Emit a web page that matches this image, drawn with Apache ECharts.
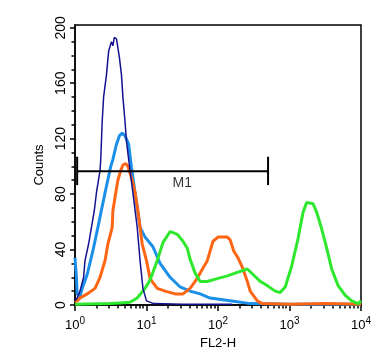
<!DOCTYPE html>
<html>
<head>
<meta charset="utf-8">
<script src="https://cdn.jsdelivr.net/npm/echarts@6/dist/echarts.min.js"></script>
<style>
html,body{margin:0;padding:0;background:#fff;}
#chart{width:385px;height:355px;}
</style>
</head>
<body>
<div id="chart"></div>
<script>
// x values are positions on the log axis, in decades: log10(FL2-H)
var navyData = [[0.00,3],[0.03,5],[0.07,10],[0.12,20],[0.14,32],[0.19,44],[0.23,56],[0.27,68],[0.30,81],[0.35,97],[0.36,105],[0.38,132],[0.40,150],[0.44,166],[0.47,183],[0.51,190],[0.53,187],[0.55,193],[0.58,192],[0.62,179],[0.65,166],[0.67,150],[0.70,132],[0.72,118],[0.76,101],[0.80,85],[0.87,56],[0.91,32],[0.95,12],[1.00,3],[1.10,1],[1.50,0.5],[2.20,0.5]];
var skyData = [[0.00,34],[0.02,20],[0.03,8],[0.07,6],[0.10,12],[0.17,22],[0.25,39],[0.32,56],[0.42,81],[0.50,100],[0.53,105],[0.58,116],[0.62,122],[0.66,124],[0.70,122],[0.75,116],[0.79,99],[0.84,81],[0.91,56],[0.98,49],[1.09,42],[1.19,30],[1.33,20],[1.47,13],[1.61,10],[1.75,8],[1.89,5],[2.17,3],[2.45,1],[3.00,0.5],[4.00,0.5]];
var orangeData = [[0.00,2],[0.03,3],[0.07,5],[0.17,8],[0.28,12],[0.35,20],[0.42,32],[0.46,44],[0.52,56],[0.53,68],[0.57,81],[0.60,90],[0.64,97],[0.67,101],[0.71,102],[0.74,100],[0.80,90],[0.84,81],[0.88,68],[0.91,56],[0.94,44],[1.00,32],[1.05,19],[1.15,12],[1.26,10],[1.40,8],[1.51,8],[1.61,12],[1.68,17],[1.75,23],[1.85,32],[1.93,46],[2.00,49],[2.13,49],[2.17,47],[2.22,39],[2.28,34],[2.35,26],[2.41,17],[2.45,10],[2.55,3],[2.62,1],[3.00,0.5],[3.50,1],[4.00,0.5]];
var greenData = [[0.00,0.5],[0.49,1],[0.63,1.5],[0.77,2],[0.87,5],[0.98,12],[1.05,18],[1.15,32],[1.23,45],[1.33,53],[1.38,52],[1.43,51],[1.51,46],[1.57,41],[1.61,33],[1.68,23],[1.75,17],[1.85,17],[1.99,19],[2.13,21],[2.24,23],[2.41,26],[2.49,22],[2.59,17],[2.66,15],[2.80,10],[2.87,9],[2.94,13],[3.03,28],[3.12,48],[3.19,67],[3.24,74],[3.33,73],[3.38,67],[3.45,55],[3.52,41],[3.59,26],[3.68,14],[3.78,7],[3.87,3],[3.96,1],[4.00,3]];

var decadeTicks = [0, 1, 2, 3, 4];          // 10^0 ... 10^4
var minorMultipliers = [2, 3, 4, 5, 6, 7, 8, 9];
var countTicks = [0, 40, 80, 120, 160, 200];
var countMinorTicks = [10, 20, 30, 50, 60, 70, 90, 100, 110, 130, 140, 150, 170, 180, 190];

// gate M1 (decades / counts)
var gateFrom = 0.03, gateTo = 2.70, gateLevel = 96.5, gateLow = 86.5, gateHigh = 107;
var gateLabel = [1.50, 88];

var minorDecadeTicks = [];
decadeTicks.slice(0, 4).forEach(function (d) {
  minorMultipliers.forEach(function (m) { minorDecadeTicks.push(d + Math.log10(m)); });
});

var FONT = '"Liberation Sans", Arial, Helvetica, sans-serif';
var chart = echarts.init(document.getElementById('chart'), null, {renderer: 'canvas'});

function lineSeries(data, color, width, z) {
  return {type: 'line', data: data, symbol: 'none', smooth: false, z: z,
    lineStyle: {color: color, width: width}, xAxisIndex: 0, yAxisIndex: 0, animation: false};
}

chart.setOption({
  animation: false,
  grid: {left: 75, right: 24, top: 25, bottom: 50, show: true, borderColor: '#000', borderWidth: 1.5, backgroundColor: 'transparent'},
  xAxis: [{
    type: 'value', min: 0, max: 4, interval: 1,
    name: 'FL2-H', nameLocation: 'middle', nameGap: 30,
    nameTextStyle: {fontFamily: FONT, fontSize: 13, color: '#000'},
    axisLine: {show: true, lineStyle: {color: '#000', width: 1.5}},
    axisTick: {show: true, customValues: decadeTicks, length: 6, lineStyle: {color: '#000', width: 1.5}},
    splitLine: {show: false},
    axisLabel: {
      customValues: decadeTicks, margin: 11, color: '#000', fontFamily: FONT,
      formatter: function (v) { return '{b|10}{s|' + Math.round(v) + '}'; },
      rich: {
        b: {fontSize: 13, fontFamily: FONT, color: '#000', lineHeight: 16, verticalAlign: 'bottom'},
        s: {fontSize: 10, fontFamily: FONT, color: '#000', lineHeight: 8, verticalAlign: 'top'}
      }
    }
  }, {
    type: 'value', min: 0, max: 4, gridIndex: 0, position: 'bottom',
    axisLine: {show: false}, axisLabel: {show: false}, splitLine: {show: false},
    axisTick: {show: true, customValues: minorDecadeTicks, length: 3.5, lineStyle: {color: '#000', width: 1.5}}
  }],
  yAxis: [{
    type: 'value', min: 0, max: 202,
    name: 'Counts', nameLocation: 'middle', nameGap: 23,
    nameTextStyle: {fontFamily: FONT, fontSize: 13, color: '#000'},
    axisLine: {show: true, lineStyle: {color: '#000', width: 1.5}},
    axisTick: {show: true, customValues: countTicks, length: 5, lineStyle: {color: '#000', width: 1.5}},
    splitLine: {show: false},
    axisLabel: {customValues: countTicks, rotate: 90, margin: 7, fontFamily: FONT, fontSize: 14, color: '#000'}
  }, {
    type: 'value', min: 0, max: 202, gridIndex: 0, position: 'left',
    axisLine: {show: false}, axisLabel: {show: false}, splitLine: {show: false},
    axisTick: {show: true, customValues: countMinorTicks, length: 3.5, lineStyle: {color: '#000', width: 1.5}}
  }],
  series: [
    lineSeries(skyData, '#1c8fe8', 3, 2),
    lineSeries(orangeData, '#ff6614', 3, 3),
    lineSeries(greenData, '#2ee82e', 3, 4),
    lineSeries(navyData, '#14128f', 1.5, 5),
    lineSeries([[gateFrom, gateLevel], [gateTo, gateLevel]], '#000', 2, 6),
    lineSeries([[gateFrom, gateLow], [gateFrom, gateHigh]], '#000', 2, 6),
    lineSeries([[gateTo, gateLow], [gateTo, gateHigh]], '#000', 2, 6),
    {type: 'scatter', data: [gateLabel], symbolSize: 1, itemStyle: {color: 'transparent'}, z: 7,
      label: {show: true, position: 'inside', formatter: 'M1', fontFamily: FONT, fontSize: 14, color: '#000'}}
  ]
});
</script>
</body>
</html>
